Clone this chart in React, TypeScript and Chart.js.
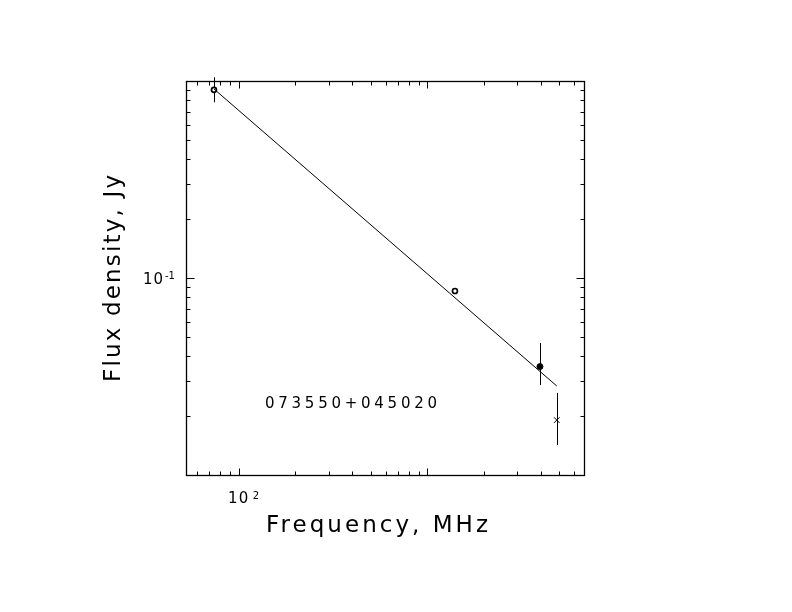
import { useEffect, useRef } from 'react';
import { Chart, registerables } from 'chart.js';

Chart.register(...registerables);

// ---- data (frequency in MHz, flux density in Jy) ----
const circleFreq = [74, 1400];
const circleFlux = [0.902, 0.0859];
const circleLo = [0.78, 0.0859];
const circleHi = [1.045, 0.0859];

const filledFreq = [3950];
const filledFlux = [0.0355];
const filledLo = [0.0286];
const filledHi = [0.0468];

const crossFreq = [4850];
const crossFlux = [0.019];
const crossLo = [0.0142];
const crossHi = [0.0261];

const fitFreq = [74, 4850];
const fitFlux = [0.911, 0.0283];

const xRange = [52.6, 6760];
const yRange = [0.01, 1.0];

const xTickValues = [100];
const xTickBase = ['10'];
const xTickExp = ['2'];
const yTickValues = [0.1];
const yTickBase = ['10'];
const yTickExp = ['-1'];

const sourceName = '073550+045020';
const xTitle = 'Frequency, MHz';
const yTitle = 'Flux density, Jy';

const FONT = '"DejaVu Sans", sans-serif';

function spacedText(ctx: CanvasRenderingContext2D, text: string, x0: number, x1: number, y: number, size: number) {
  ctx.font = `${size}px ${FONT}`;
  (ctx as any).letterSpacing = '0px';
  const w = ctx.measureText(text).width;
  const n = Array.from(text).length;
  const sp = n > 1 ? (x1 - x0 - w) / (n - 1) : 0;
  (ctx as any).letterSpacing = `${sp}px`;
  ctx.textAlign = 'left';
  ctx.textBaseline = 'alphabetic';
  ctx.fillText(text, x0, y);
  (ctx as any).letterSpacing = '0px';
}

const pts = (xs: number[], ys: number[]) => xs.map((x, i) => ({ x, y: ys[i] }));

const decorPlugin = {
  id: 'decor',
  beforeDatasetsDraw(chart: any) {
    const ctx: CanvasRenderingContext2D = chart.ctx;
    const xs = chart.scales.x;
    const ys = chart.scales.y;
    ctx.save();
    ctx.strokeStyle = '#000';
    ctx.lineWidth = 1;
    const bars = (f: number[], lo: number[], hi: number[]) => {
      f.forEach((v, i) => {
        if (lo[i] === hi[i]) return;
        const px = Math.round(xs.getPixelForValue(v)) + 0.5;
        ctx.beginPath();
        ctx.moveTo(px, ys.getPixelForValue(lo[i]));
        ctx.lineTo(px, ys.getPixelForValue(hi[i]));
        ctx.stroke();
      });
    };
    bars(circleFreq, circleLo, circleHi);
    bars(filledFreq, filledLo, filledHi);
    bars(crossFreq, crossLo, crossHi);
    ctx.restore();
  },
  afterDraw(chart: any) {
    const ctx: CanvasRenderingContext2D = chart.ctx;
    const a = chart.chartArea;
    const xs = chart.scales.x;
    const ys = chart.scales.y;
    const L = Math.round(a.left) + 0.5;
    const R = Math.round(a.right) + 0.5;
    const T = Math.round(a.top) + 0.5;
    const B = Math.round(a.bottom) + 0.5;
    ctx.save();
    ctx.strokeStyle = '#000';
    ctx.fillStyle = '#000';
    ctx.lineWidth = 1.3;
    ctx.strokeRect(L, T, R - L, B - T);
    ctx.lineWidth = 1;

    const minorTicks = (min: number, max: number) => {
      const out: { v: number; major: boolean }[] = [];
      for (let e = Math.floor(Math.log10(min)); e <= Math.ceil(Math.log10(max)); e++) {
        for (let m = 1; m <= 9; m++) {
          const v = m * Math.pow(10, e);
          if (v > min * 1.0001 && v < max * 0.9999) out.push({ v, major: m === 1 });
        }
      }
      return out;
    };
    // x ticks (bottom & top, inward)
    minorTicks(xs.min, xs.max).forEach(({ v, major }) => {
      const px = Math.round(xs.getPixelForValue(v)) + 0.5;
      const len = major ? 7 : 4;
      ctx.beginPath();
      ctx.moveTo(px, B); ctx.lineTo(px, B - len);
      ctx.moveTo(px, T); ctx.lineTo(px, T + len);
      ctx.stroke();
    });
    // y ticks (left & right, inward)
    minorTicks(ys.min, ys.max).forEach(({ v, major }) => {
      const py = Math.round(ys.getPixelForValue(v)) + 0.5;
      const len = major ? 8 : 4;
      ctx.beginPath();
      ctx.moveTo(L, py); ctx.lineTo(L + len, py);
      ctx.moveTo(R, py); ctx.lineTo(R - len, py);
      ctx.stroke();
    });

    // tick labels
    ctx.textBaseline = 'alphabetic';
    xTickValues.forEach((v, i) => {
      const px = xs.getPixelForValue(v);
      ctx.font = `15px ${FONT}`;
      ctx.textAlign = 'center';
      (ctx as any).letterSpacing = '1px';
      ctx.fillText(xTickBase[i], px, a.bottom + 28);
      (ctx as any).letterSpacing = '0px';
      ctx.font = `10px ${FONT}`;
      ctx.textAlign = 'left';
      ctx.fillText(xTickExp[i], px + 14, a.bottom + 24);
    });
    yTickValues.forEach((v, i) => {
      const py = ys.getPixelForValue(v);
      ctx.font = `15px ${FONT}`;
      ctx.textAlign = 'right';
      (ctx as any).letterSpacing = '1px';
      ctx.fillText(yTickBase[i], a.left - 22, py + 5.5);
      (ctx as any).letterSpacing = '0px';
      ctx.font = `10px ${FONT}`;
      ctx.textAlign = 'left';
      ctx.fillText(yTickExp[i], a.left - 21, py + 1);
    });

    // axis titles
    spacedText(ctx, xTitle, a.left + 80, a.left + 302, a.bottom + 57, 23);
    ctx.save();
    ctx.translate(a.left - 66, a.top + 301);
    ctx.rotate(-Math.PI / 2);
    spacedText(ctx, yTitle, 0, 207, 0, 23);
    ctx.restore();

    // source label
    spacedText(ctx, sourceName, a.left + 79, a.left + 251, a.top + 327, 15);
    ctx.restore();
  },
};

export default function App() {
  const ref = useRef<HTMLCanvasElement>(null);
  useEffect(() => {
    if (!ref.current) return;
    const chart = new Chart(ref.current, {
      type: 'scatter',
      data: {
        datasets: [
          {
            data: pts(fitFreq, fitFlux),
            showLine: true,
            borderColor: '#000',
            borderWidth: 1,
            pointRadius: 0,
            clip: false,
          } as any,
          {
            data: pts(circleFreq, circleFlux),
            pointStyle: 'circle',
            pointRadius: 2.5,
            borderWidth: 1.7,
            borderColor: '#000',
            backgroundColor: '#fff',
            clip: false,
          },
          {
            data: pts(filledFreq, filledFlux),
            pointStyle: 'circle',
            pointRadius: 3,
            borderWidth: 1,
            borderColor: '#000',
            backgroundColor: '#000',
            clip: false,
          },
          {
            data: pts(crossFreq, crossFlux),
            pointStyle: 'crossRot',
            pointRadius: 4,
            borderWidth: 1,
            borderColor: '#000',
            backgroundColor: '#000',
            clip: false,
          },
        ],
      },
      options: {
        responsive: false,
        animation: false,
        devicePixelRatio: 1,
        layout: { padding: { left: 186, right: 208, top: 81, bottom: 137 } },
        plugins: { legend: { display: false }, tooltip: { enabled: false } },
        scales: {
          x: { type: 'logarithmic', min: xRange[0], max: xRange[1], display: false },
          y: { type: 'logarithmic', min: yRange[0], max: yRange[1], display: false },
        },
      },
      plugins: [decorPlugin],
    });
    return () => chart.destroy();
  }, []);
  return (
    <div style={{ position: 'fixed', left: 0, top: 0, width: 792, height: 612, background: '#fff' }}>
      <canvas ref={ref} width={792} height={612} style={{ display: 'block' }} />
    </div>
  );
}
